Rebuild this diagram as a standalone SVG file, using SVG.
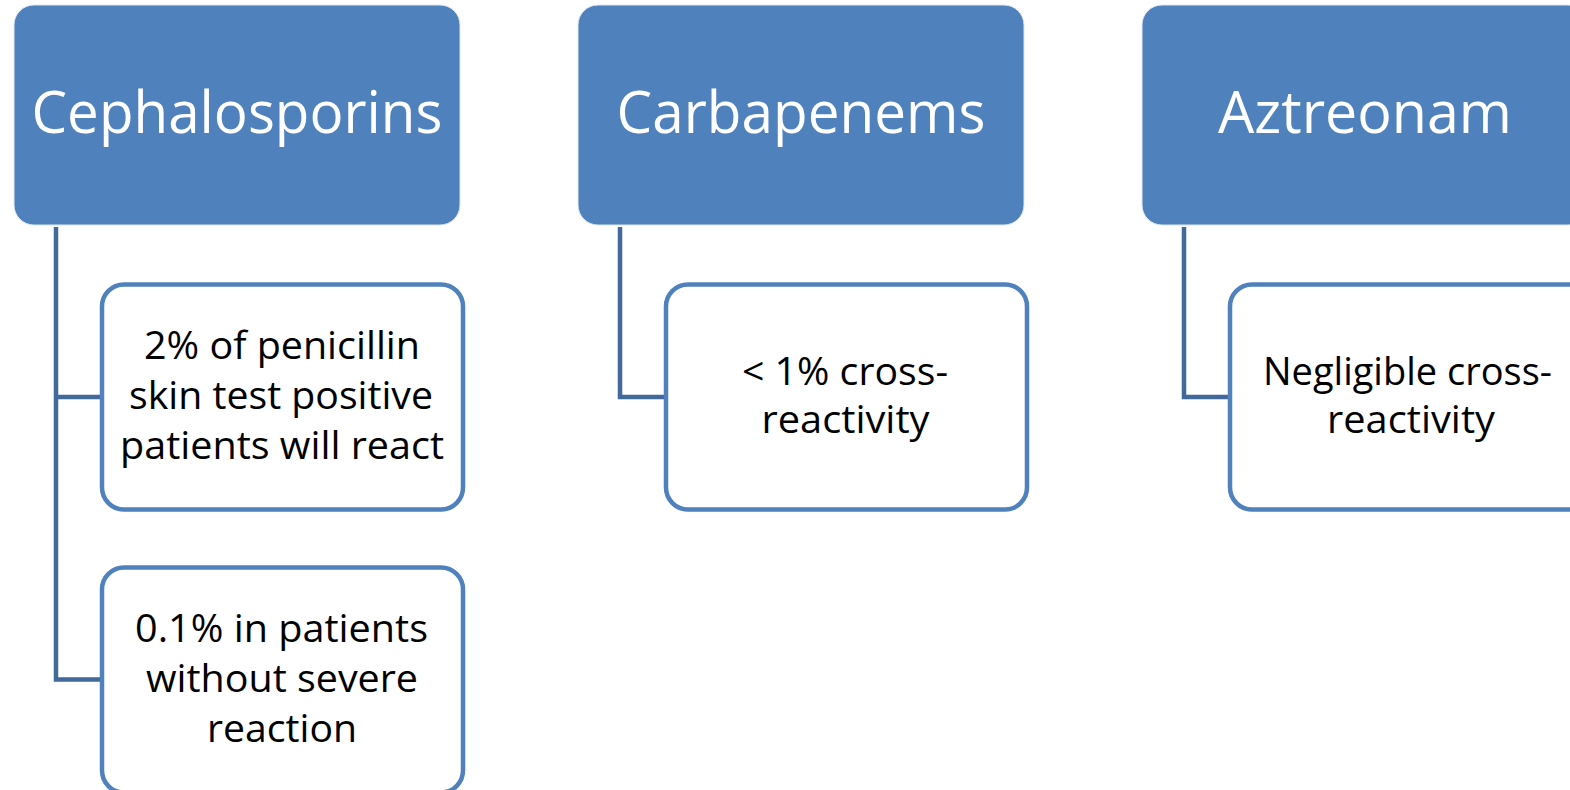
<svg xmlns="http://www.w3.org/2000/svg" width="1570" height="790" viewBox="0 0 1570 790">
<style>
.hdr{fill:#4f81bd;stroke:#dfe7f2;stroke-width:1}
.child{fill:#ffffff;stroke:#4f81bd;stroke-width:4.5}
.conn{fill:none;stroke:#41699b;stroke-width:4.5;stroke-linejoin:miter}
.ht{font-family:"Open Sans","Liberation Sans",sans-serif;font-size:58px;fill:#ffffff;text-anchor:middle}
.ct{font-family:"Open Sans","Liberation Sans",sans-serif;font-size:39px;fill:#000000;text-anchor:middle}
</style>
<rect width="1570" height="790" fill="#ffffff"/>
<g id="connectors">
<path class="conn" d="M56 227 V679.5 H102 M56 397 H102"/>
<path class="conn" d="M620 227 V397 H666"/>
<path class="conn" d="M1184 227 V397 H1230"/>
</g>
<g id="cephalosporins">
<rect class="hdr" x="14" y="5" width="446" height="220" rx="20"/>
<text class="ht" x="237" y="133" textLength="411" lengthAdjust="spacingAndGlyphs">Cephalosporins</text>
</g>
<g id="ceph-child1">
<rect class="child" x="102" y="284.5" width="361" height="225" rx="22"/>
<text class="ct" x="282" y="359" textLength="276" lengthAdjust="spacingAndGlyphs">2% of penicillin</text>
<text class="ct" x="281" y="409" textLength="304" lengthAdjust="spacingAndGlyphs">skin test positive</text>
<text class="ct" x="282" y="459" textLength="324" lengthAdjust="spacingAndGlyphs">patients will react</text>
</g>
<g id="ceph-child2">
<rect class="child" x="102" y="567.5" width="361" height="225" rx="22"/>
<text class="ct" x="281.5" y="642" textLength="293" lengthAdjust="spacingAndGlyphs">0.1% in patients</text>
<text class="ct" x="282" y="692" textLength="272" lengthAdjust="spacingAndGlyphs">without severe</text>
<text class="ct" x="282" y="742" textLength="150" lengthAdjust="spacingAndGlyphs">reaction</text>
</g>
<g id="carbapenems">
<rect class="hdr" x="578" y="5" width="446" height="220" rx="20"/>
<text class="ht" x="801" y="133" textLength="369" lengthAdjust="spacingAndGlyphs">Carbapenems</text>
</g>
<g id="carb-child">
<rect class="child" x="666" y="284.5" width="361" height="225" rx="22"/>
<text class="ct" x="845" y="385" textLength="206" lengthAdjust="spacingAndGlyphs">&lt; 1% cross-</text>
<text class="ct" x="845.5" y="433" textLength="168" lengthAdjust="spacingAndGlyphs">reactivity</text>
</g>
<g id="aztreonam">
<rect class="hdr" x="1142" y="5" width="446" height="220" rx="20"/>
<text class="ht" x="1365" y="133" textLength="294" lengthAdjust="spacingAndGlyphs">Aztreonam</text>
</g>
<g id="azt-child">
<rect class="child" x="1230" y="284.5" width="361" height="225" rx="22"/>
<text class="ct" x="1407.5" y="385" textLength="289" lengthAdjust="spacingAndGlyphs">Negligible cross-</text>
<text class="ct" x="1411" y="433" textLength="168" lengthAdjust="spacingAndGlyphs">reactivity</text>
</g>
</svg>
